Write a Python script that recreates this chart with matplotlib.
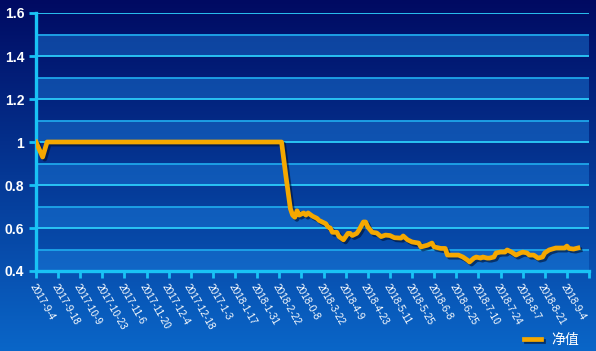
import numpy as np
import matplotlib
matplotlib.use('Agg')
import matplotlib.pyplot as plt
import matplotlib.patheffects as pe

# trading-day index and net value
day = [0, 3, 5, 111, 113, 115, 116, 117, 118, 119, 121, 122, 123, 125, 127, 128,
       131, 132, 133, 134, 136, 137, 139, 141, 142, 143, 145, 146, 148, 149, 150,
       152, 154, 156, 158, 160, 162, 165, 166, 168, 170, 173, 174, 177, 179, 180,
       183, 185, 186, 189, 191, 193, 195, 196, 198, 199, 201, 202, 204, 205, 207,
       208, 210, 212, 213, 215, 217, 219, 220, 222, 223, 225, 227, 229, 230, 232,
       235, 237, 239, 240, 241, 243, 245]
nav = [1.00, 0.93, 1.00, 1.00, 0.84, 0.69, 0.66, 0.65, 0.68, 0.66, 0.67, 0.66, 0.67, 0.655, 0.645, 0.635,
       0.62, 0.605, 0.60, 0.58, 0.58, 0.56, 0.545, 0.575, 0.575, 0.565, 0.575, 0.59, 0.628, 0.628, 0.605,
       0.58, 0.577, 0.56, 0.567, 0.565, 0.555, 0.553, 0.563, 0.545, 0.535, 0.53, 0.512, 0.52, 0.53, 0.512,
       0.505, 0.505, 0.474, 0.474, 0.474, 0.465, 0.451, 0.442, 0.46, 0.465, 0.46, 0.465, 0.46, 0.46, 0.465,
       0.484, 0.488, 0.488, 0.498, 0.488, 0.474, 0.484, 0.488, 0.484, 0.474, 0.474, 0.46, 0.465, 0.484, 0.498,
       0.507, 0.507, 0.507, 0.516, 0.505, 0.502, 0.507]

xlabels = ['2017-9-4', '2017-9-18', '2017-10-9', '2017-10-23', '2017-11-6', '2017-11-20',
           '2017-12-4', '2017-12-18', '2017-1-3', '2018-1-17', '2018-1-31', '2018-2-22',
           '2018-0-8', '2018-3-22', '2018-4-9', '2018-4-23', '2018-5-11', '2018-5-25',
           '2018-6-8', '2018-6-25', '2018-7-10', '2018-7-24', '2018-8-7', '2018-8-21', '2018-9-4']
series_name = '净值'

fig = plt.figure(figsize=(5.96, 3.51), dpi=100)

# gradient background
bg = fig.add_axes([0, 0, 1, 1], zorder=-10)
grad = np.linspace(0, 1, 256).reshape(-1, 1)
cmap = matplotlib.colors.LinearSegmentedColormap.from_list('bg', ['#000a62', '#0a66c8'])
bg.imshow(grad, aspect='auto', cmap=cmap, extent=[0, 1, 0, 1], origin='upper')
bg.axis('off')

ax = fig.add_axes([36/596, 1 - 271/351, 553/596, 258/351])
ax.set_facecolor('none')
ax.set_xlim(0, 250)
ax.set_ylim(0.4, 1.6)

# light stripes
for lo in np.arange(0.4, 1.6, 0.2):
    ax.axhspan(lo, lo + 0.1, color='#1c80e0', alpha=0.45, lw=0, zorder=0)

ax.set_yticks(np.arange(0.4, 1.61, 0.2))
ax.set_yticks(np.arange(0.5, 1.6, 0.2), minor=True)
ax.set_yticklabels(['0.4', '0.6', '0.8', '1', '1.2', '1.4', '1.6'])
ax.grid(True, which='major', axis='y', color='#2ccdfa', lw=1.3, zorder=1)
ax.grid(True, which='minor', axis='y', color='#1ea6ea', lw=1.3, zorder=1)
ax.tick_params(axis='y', which='minor', length=0)

ax.set_xticks(np.arange(0, 251, 10))
ax.set_xticklabels(xlabels + [''])

for s in ['top', 'right']:
    ax.spines[s].set_visible(False)
for s in ['left', 'bottom']:
    ax.spines[s].set_color('#19c3f5')
    ax.spines[s].set_linewidth(2.4)
ax.tick_params(axis='both', which='major', colors='#19c3f5', length=5, width=2)
for t in ax.get_yticklabels():
    t.set_color('white')
    t.set_fontweight('bold')
    t.set_fontsize(10)
    t.set_family('Liberation Sans')
for t in ax.get_xticklabels():
    t.set_color('white')
    t.set_fontsize(7.2)
    t.set_family('Liberation Sans')
    t.set_rotation(-60)
    t.set_ha('left')
    t.set_va('top')
    t.set_rotation_mode('anchor')
ax.tick_params(axis='x', pad=3)

ax.plot(day, nav, color='#f5a800', lw=3.4, label=series_name, zorder=5, solid_joinstyle='round',
        path_effects=[pe.SimpleLineShadow(offset=(1.5, -1.5), shadow_color='#001030', alpha=0.6), pe.Normal()])

leg = fig.legend(loc='center right', bbox_to_anchor=(592/596, 1 - 340/351), frameon=False,
                 handlelength=1.2, handletextpad=0.8, prop={'family': ['Noto Sans CJK SC', 'DejaVu Sans'], 'size': 10})
for t in leg.get_texts():
    t.set_color('white')

fig.savefig('out.png', dpi=100)
